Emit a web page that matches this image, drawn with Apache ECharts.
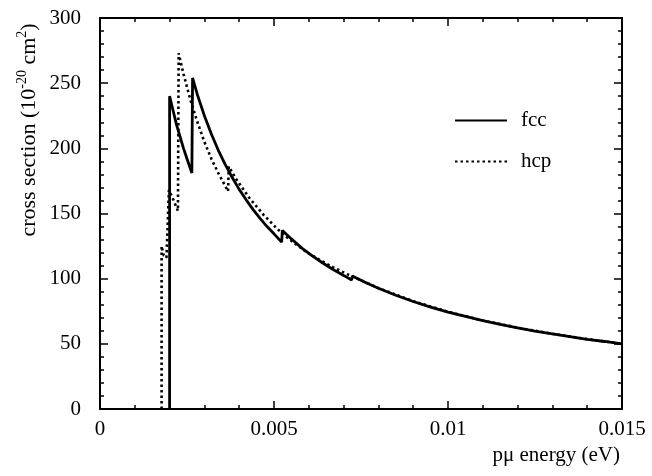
<!DOCTYPE html>
<html>
<head>
<meta charset="utf-8">
<script src="https://cdn.jsdelivr.net/npm/echarts@6/dist/echarts.min.js"></script>
<style>
  html, body { margin: 0; padding: 0; background: #fff; }
  #chart { width: 652px; height: 476px; }
</style>
</head>
<body>
<div id="chart"></div>
<script>
// values (energy in eV, cross section in 1e-20 cm^2)
var fccEnergy = [0.00200, 0.00200, 0.00210, 0.00220, 0.00230, 0.00240, 0.00250, 0.00264,
  0.00266, 0.0028, 0.0030, 0.0032, 0.0034, 0.0036, 0.0038, 0.0040, 0.0042, 0.0044, 0.0046, 0.0048, 0.0050, 0.00522,
  0.00524, 0.0055, 0.0058, 0.0061, 0.0064, 0.0067, 0.0070, 0.00723,
  0.00725, 0.0076, 0.0080, 0.0085, 0.0090, 0.0095, 0.0100, 0.0105, 0.0110, 0.0115, 0.0120, 0.0125, 0.0130, 0.0135, 0.0140, 0.0145, 0.0150]
var fccSection = [0, 240, 229, 218, 209, 200, 192, 181,
  254, 241, 225, 211, 198.5, 187.5, 177.6, 168.5, 160.5, 153, 146.3, 140, 134.4, 128,
  137, 130.5, 123.5, 117.5, 112, 107, 102.5, 99,
  102, 97.5, 92.7, 87.3, 82.5, 78.2, 74.4, 71, 67.8, 65, 62.3, 59.8, 57.6, 55.5, 53.5, 51.8, 50]

var hcpEnergy = [0.00177, 0.00177, 0.00183, 0.00191, 0.00196, 0.00198, 0.0021, 0.00224,
  0.00226, 0.0024, 0.0026, 0.0028, 0.0030, 0.0032, 0.0034, 0.0036, 0.00368,
  0.00370, 0.0039, 0.0043, 0.0047, 0.0051, 0.0055, 0.0059, 0.0063, 0.0067, 0.0071, 0.0075,
  0.0080, 0.0090, 0.0100, 0.0110, 0.0120, 0.0130, 0.0140, 0.0150]
var hcpSection = [0, 125, 118, 116, 116, 168, 161, 152,
  273, 257, 237, 220, 205, 192, 181, 171, 167,
  186, 177, 161.6, 149, 138, 129, 121, 114.6, 108.7, 103.5, 98.7,
  92.8, 82.7, 74.6, 67.9, 62.4, 57.7, 53.6, 50.1]

var xTicks = [0, 0.005, 0.01, 0.015]
var yTicks = [0, 50, 100, 150, 200, 250, 300]

function pairs(xs, ys) {
  return xs.map(function (x, i) { return [x, ys[i]] })
}

var serif = 'Liberation Serif'
var chart = echarts.init(document.getElementById('chart'))

var tickCommon = {
  axisLine: {show: true, onZero: false, lineStyle: {color: '#000', width: 2}},
  axisTick: {show: true, inside: true, length: 8, lineStyle: {color: '#000', width: 1.5}},
  minorTick: {show: true, splitNumber: 5, length: 4, lineStyle: {color: '#000', width: 1.5}},
  splitLine: {show: false}
}

chart.setOption({
  animation: false,
  grid: {left: 100, right: 30, top: 18, bottom: 67, show: false},
  legend: {
    orient: 'vertical',
    left: 449,
    top: 105,
    itemWidth: 52,
    itemHeight: 20,
    itemGap: 20,
    data: ['fcc', 'hcp'],
    itemStyle: {opacity: 0},
    textStyle: {fontFamily: serif, fontSize: 21, color: '#000', padding: [0, 0, 0, 9]}
  },
  xAxis: [
    Object.assign({
      type: 'value', min: xTicks[0], max: xTicks[xTicks.length - 1], interval: 0.005,
      name: 'pμ energy (eV)', nameLocation: 'end', nameGap: -2,
      nameTextStyle: {fontFamily: serif, fontSize: 21, color: '#000', align: 'right', verticalAlign: 'top', padding: [36, 0, 0, 0]},
      axisLabel: {fontFamily: serif, fontSize: 21, color: '#000', margin: 10}
    }, tickCommon),
    Object.assign({
      type: 'value', position: 'top', min: 0, max: 0.015, interval: 0.005,
      axisLabel: {show: false}
    }, tickCommon)
  ],
  yAxis: [
    Object.assign({
      type: 'value', min: yTicks[0], max: yTicks[yTicks.length - 1], interval: 50,
      axisLabel: {fontFamily: serif, fontSize: 21, color: '#000', margin: 19}
    }, tickCommon),
    Object.assign({
      type: 'value', position: 'right', min: 0, max: 300, interval: 50,
      axisLabel: {show: false}
    }, tickCommon)
  ],
  graphic: [{
    type: 'text',
    x: 29,
    y: 130,
    rotation: Math.PI / 2,
    style: {
      text: '{n|cross section (10}{s|-20}{n| cm}{s|2}{n|)}',
      align: 'center',
      verticalAlign: 'middle',
      fill: '#000',
      rich: {
        n: {fontFamily: serif, fontSize: 22, lineHeight: 27, fill: '#000'},
        s: {fontFamily: serif, fontSize: 14, lineHeight: 14, verticalAlign: 'top', fill: '#000'}
      }
    }
  }],
  series: [
    {
      name: 'fcc',
      type: 'line',
      xAxisIndex: 0, yAxisIndex: 0,
      symbol: 'none',
      smooth: false,
      lineStyle: {color: '#000', width: 2.8, type: 'solid'},
      itemStyle: {color: '#000'},
      data: pairs(fccEnergy, fccSection)
    },
    {
      name: 'hcp',
      type: 'line',
      xAxisIndex: 0, yAxisIndex: 0,
      symbol: 'none',
      smooth: false,
      lineStyle: {color: '#000', width: 2.6, type: [2.5, 3]},
      itemStyle: {color: '#000'},
      data: pairs(hcpEnergy, hcpSection)
    }
  ]
})
</script>
</body>
</html>
